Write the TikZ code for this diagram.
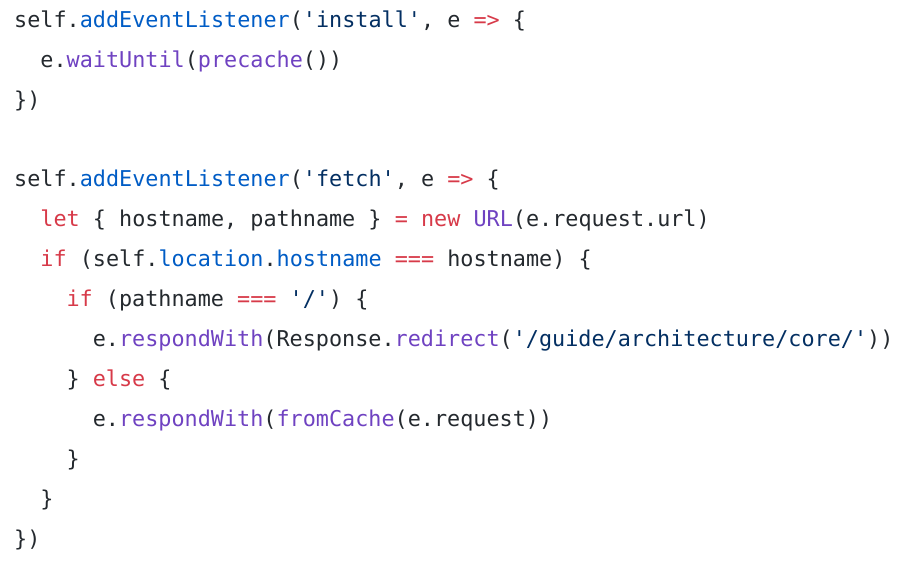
\documentclass[tikz,border=0pt]{standalone}
\usepackage{fontspec}
\newfontfamily\codefont{DejaVu Sans Mono}
\definecolor{txt}{HTML}{24292E}
\definecolor{fnc}{HTML}{005CC5}
\definecolor{pur}{HTML}{6F42C1}
\definecolor{kwc}{HTML}{D73A49}
\definecolor{strc}{HTML}{032F62}
\newcommand{\fn}[1]{\textcolor{fnc}{#1}}
\newcommand{\pu}[1]{\textcolor{pur}{#1}}
\newcommand{\kw}[1]{\textcolor{kwc}{#1}}
\newcommand{\st}[1]{\textcolor{strc}{#1}}
\newcommand{\qq}{\char"0027\relax}
\tikzset{codeline/.style={anchor=base west,inner sep=0pt,text=txt,font=\codefont\fontsize{21.8pt}{26pt}\selectfont}}
\newcommand{\cw}{13.1}
\newcommand{\lh}{39.9}
\begin{document}
\begin{tikzpicture}[x=1pt,y=1pt]
\useasboundingbox (0,0) rectangle (918,-560);
\node[codeline] (l1) at (14+0*\cw,-27.3-0*\lh) {self.\fn{addEventListener}(\st{\qq install\qq}, e \kw{=>} \{};
\node[codeline] (l2) at (14+2*\cw,-27.3-1*\lh) {e.\pu{waitUntil}(\pu{precache}())};
\node[codeline] (l3) at (14+0*\cw,-27.3-2*\lh) {\})};
\node[codeline] (l5) at (14+0*\cw,-27.3-4*\lh) {self.\fn{addEventListener}(\st{\qq fetch\qq}, e \kw{=>} \{};
\node[codeline] (l6) at (14+2*\cw,-27.3-5*\lh) {\kw{let} \{ hostname, pathname \} \kw{=} \kw{new} \pu{URL}(e.request.url)};
\node[codeline] (l7) at (14+2*\cw,-27.3-6*\lh) {\kw{if} (self.\fn{location}.\fn{hostname} \kw{===} hostname) \{};
\node[codeline] (l8) at (14+4*\cw,-27.3-7*\lh) {\kw{if} (pathname \kw{===} \st{\qq/\qq}) \{};
\node[codeline] (l9) at (14+6*\cw,-27.3-8*\lh) {e.\pu{respondWith}(Response.\pu{redirect}(\st{\qq/guide/architecture/core/\qq}))};
\node[codeline] (l10) at (14+4*\cw,-27.3-9*\lh) {\} \kw{else} \{};
\node[codeline] (l11) at (14+6*\cw,-27.3-10*\lh) {e.\pu{respondWith}(\pu{fromCache}(e.request))};
\node[codeline] (l12) at (14+4*\cw,-27.3-11*\lh) {\}};
\node[codeline] (l13) at (14+2*\cw,-27.3-12*\lh) {\}};
\node[codeline] (l14) at (14+0*\cw,-27.3-13*\lh) {\})};
\end{tikzpicture}
\end{document}
